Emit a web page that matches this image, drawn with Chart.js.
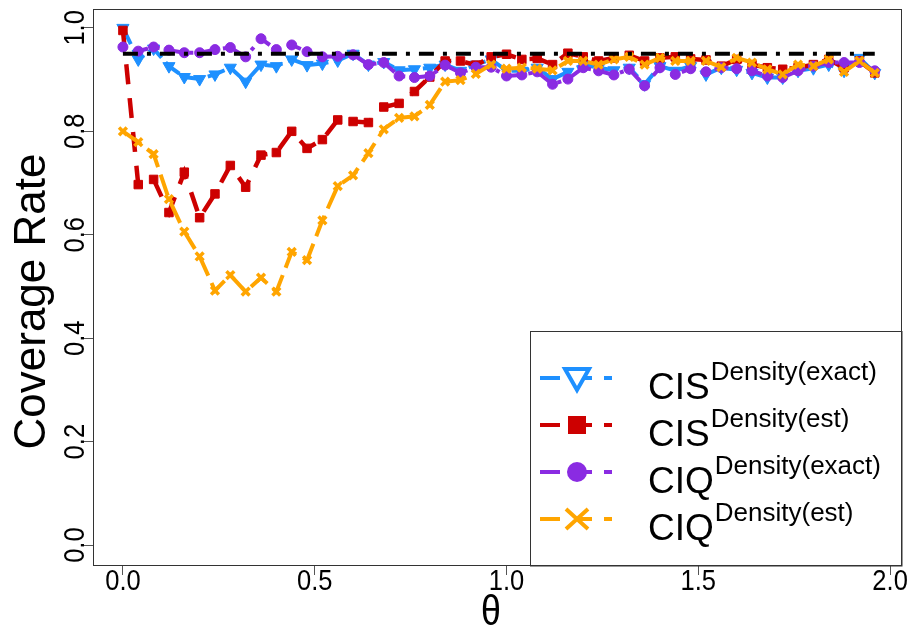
<!DOCTYPE html>
<html>
<head>
<meta charset="utf-8">
<script src="https://cdn.jsdelivr.net/npm/chart.js@4/dist/chart.umd.min.js"></script>
<style>
  html, body { margin: 0; padding: 0; background: #ffffff; }
  #wrap { width: 911px; height: 632px; }
</style>
</head>
<body>
<div id="wrap"><canvas id="cv" width="911" height="632"></canvas></div>
<script>
// theta grid
const theta = [0.00, 0.04, 0.08, 0.12, 0.16, 0.20, 0.24, 0.28, 0.32, 0.36,
               0.40, 0.44, 0.48, 0.52, 0.56, 0.60, 0.64, 0.68, 0.72, 0.76,
               0.80, 0.84, 0.88, 0.92, 0.96, 1.00, 1.04, 1.08, 1.12, 1.16,
               1.20, 1.24, 1.28, 1.32, 1.36, 1.40, 1.44, 1.48, 1.52, 1.56,
               1.60, 1.64, 1.68, 1.72, 1.76, 1.80, 1.84, 1.88, 1.92, 1.96];

// coverage rates
const cisExact = [1.000, 0.939, 0.960, 0.926, 0.905, 0.901, 0.910, 0.923, 0.896, 0.929,
                  0.926, 0.939, 0.928, 0.931, 0.937, 0.950, 0.929, 0.934, 0.918, 0.920,
                  0.923, 0.929, 0.917, 0.929, 0.939, 0.917, 0.917, 0.923, 0.901, 0.915,
                  0.929, 0.923, 0.918, 0.923, 0.891, 0.926, 0.917, 0.926, 0.910, 0.923,
                  0.919, 0.913, 0.904, 0.904, 0.917, 0.922, 0.929, 0.917, 0.942, 0.913];
const cisEst   = [0.995, 0.697, 0.707, 0.643, 0.721, 0.633, 0.679, 0.734, 0.692, 0.754,
                  0.759, 0.800, 0.767, 0.784, 0.822, 0.819, 0.817, 0.847, 0.854, 0.877,
                  0.905, 0.936, 0.936, 0.928, 0.944, 0.949, 0.939, 0.941, 0.929, 0.951,
                  0.944, 0.936, 0.942, 0.947, 0.936, 0.942, 0.944, 0.940, 0.938, 0.926,
                  0.939, 0.929, 0.923, 0.920, 0.923, 0.929, 0.939, 0.923, 0.936, 0.913];
const ciqExact = [0.963, 0.955, 0.963, 0.957, 0.952, 0.952, 0.958, 0.962, 0.944, 0.979,
                  0.958, 0.967, 0.954, 0.944, 0.945, 0.948, 0.929, 0.933, 0.907, 0.904,
                  0.907, 0.928, 0.913, 0.924, 0.924, 0.907, 0.909, 0.915, 0.891, 0.901,
                  0.923, 0.917, 0.909, 0.920, 0.888, 0.923, 0.910, 0.921, 0.915, 0.923,
                  0.921, 0.917, 0.907, 0.904, 0.917, 0.926, 0.933, 0.933, 0.933, 0.917];
const ciqEst   = [0.800, 0.779, 0.756, 0.669, 0.606, 0.558, 0.492, 0.522, 0.490, 0.517,
                  0.490, 0.567, 0.551, 0.628, 0.694, 0.715, 0.758, 0.804, 0.826, 0.829,
                  0.851, 0.896, 0.899, 0.911, 0.929, 0.921, 0.923, 0.921, 0.918, 0.936,
                  0.936, 0.929, 0.939, 0.944, 0.929, 0.942, 0.936, 0.936, 0.936, 0.924,
                  0.942, 0.933, 0.920, 0.910, 0.929, 0.926, 0.939, 0.915, 0.936, 0.913];

// nominal level
const nominal = 0.95;
const nominalSpan = [0.00, 1.96];

// axis ticks
const xTicks = [0, 0.5, 1, 1.5, 2];
const yTicks = [0, 0.2, 0.4, 0.6, 0.8, 1.0];

// legend entries
const legendMain = ['CIS', 'CIS', 'CIQ', 'CIQ'];
const legendSup  = ['Density(exact)', 'Density(est)', 'Density(exact)', 'Density(est)'];

const FONT = '"Liberation Sans", Arial, sans-serif';
const C_BLUE = '#1E90FF', C_RED = '#CD0000', C_PURPLE = '#8A2BE2', C_ORANGE = '#FFA500';

const pts = (ys) => theta.map((t, i) => ({ x: t, y: ys[i] }));

const datasets = [
  {
    label: 'nominal',
    data: nominalSpan.map(t => ({ x: t, y: nominal })),
    borderColor: '#000000', borderWidth: 4, borderDash: [15, 9, 4, 9],
    pointRadius: 0, order: -1
  },
  {
    label: 'CIS exact', data: pts(cisExact),
    borderColor: C_BLUE, backgroundColor: C_BLUE, borderWidth: 4, borderDash: [18, 6],
    pointStyle: 'triangle', rotation: 180, pointRadius: 7, pointBorderWidth: 1,
    pointBackgroundColor: C_BLUE, pointBorderColor: C_BLUE, order: 3
  },
  {
    label: 'CIS est', data: pts(cisEst),
    borderColor: C_RED, backgroundColor: C_RED, borderWidth: 4.5, borderDash: [20, 14],
    pointStyle: 'rect', pointRadius: 6, pointBorderWidth: 1,
    pointBackgroundColor: C_RED, pointBorderColor: C_RED, order: 2
  },
  {
    label: 'CIQ exact', data: pts(ciqExact),
    borderColor: C_PURPLE, backgroundColor: C_PURPLE, borderWidth: 4, borderDash: [4, 8, 14, 8],
    pointStyle: 'circle', pointRadius: 5, pointBorderWidth: 1,
    pointBackgroundColor: C_PURPLE, pointBorderColor: C_PURPLE, order: 1
  },
  {
    label: 'CIQ est', data: pts(ciqEst),
    borderColor: C_ORANGE, backgroundColor: C_ORANGE, borderWidth: 4, borderDash: [22, 8],
    pointStyle: 'crossRot', pointRadius: 5.5, pointBorderWidth: 3.5,
    pointBackgroundColor: C_ORANGE, pointBorderColor: C_ORANGE, order: 0
  }
];

function drawLegendGlyph(ctx, kind, cx, cy, color) {
  ctx.save();
  ctx.strokeStyle = color; ctx.fillStyle = color; ctx.lineWidth = 4; ctx.lineCap = 'butt';
  // line sample pieces
  ctx.beginPath();
  ctx.moveTo(540, cy); ctx.lineTo(560, cy);
  ctx.moveTo(cx, cy); ctx.lineTo(592, cy);
  ctx.moveTo(604, cy); ctx.lineTo(612, cy);
  ctx.stroke();
  if (kind === 'tri') {
    ctx.fillStyle = '#ffffff';
    ctx.beginPath();
    ctx.moveTo(cx - 12, cy - 9); ctx.lineTo(cx + 12, cy - 9); ctx.lineTo(cx, cy + 12); ctx.closePath();
    ctx.fill();
    ctx.lineWidth = 4; ctx.lineJoin = 'miter';
    ctx.stroke();
  } else if (kind === 'sq') {
    ctx.fillRect(cx - 9, cy - 9, 18, 18);
  } else if (kind === 'dot') {
    ctx.beginPath(); ctx.arc(cx, cy, 10, 0, Math.PI * 2); ctx.fill();
  } else if (kind === 'x') {
    ctx.beginPath();
    ctx.moveTo(cx - 11, cy - 10); ctx.lineTo(cx + 11, cy + 10);
    ctx.moveTo(cx + 11, cy - 10); ctx.lineTo(cx - 11, cy + 10);
    ctx.stroke();
  }
  ctx.restore();
}

// tick labels use a slightly narrowed face
function tallText(ctx, text, x, y, size, squeeze) {
  ctx.save();
  ctx.translate(x, y);
  ctx.scale(squeeze, 1);
  ctx.font = size + 'px ' + FONT;
  ctx.fillText(text, 0, 0);
  ctx.restore();
}

const decorations = {
  id: 'decorations',
  beforeDraw(chart) {
    const ctx = chart.ctx;
    ctx.save();
    ctx.fillStyle = '#ffffff';
    ctx.fillRect(0, 0, chart.width, chart.height);
    ctx.restore();
  },
  afterDraw(chart) {
    const ctx = chart.ctx;
    const a = chart.chartArea;
    const xs = chart.scales.x;
    const ys = chart.scales.y;

    // legend panel
    const lx = 530.5, ly = 331.5;
    ctx.save();
    ctx.fillStyle = '#ffffff';
    ctx.fillRect(lx, ly, a.right - lx, a.bottom - ly);
    ctx.strokeStyle = '#333333'; ctx.lineWidth = 1;
    ctx.strokeRect(lx, ly, a.right - lx, a.bottom - ly);
    const rowsY = [378, 425, 472, 519];
    const kinds = ['tri', 'sq', 'dot', 'x'];
    const cols = [C_BLUE, C_RED, C_PURPLE, C_ORANGE];
    rowsY.forEach((y, i) => {
      drawLegendGlyph(ctx, kinds[i], 577, y, cols[i]);
      ctx.fillStyle = '#000000';
      ctx.textBaseline = 'alphabetic'; ctx.textAlign = 'left';
      ctx.font = '37px ' + FONT;
      ctx.fillText(legendMain[i], 648, y + 21);
      const w = ctx.measureText(legendMain[i]).width;
      ctx.font = '26px ' + FONT;
      ctx.fillText(legendSup[i], 648 + w + 1, y + 2);
    });
    ctx.restore();

    // plot frame
    ctx.save();
    ctx.strokeStyle = '#333333'; ctx.lineWidth = 1;
    ctx.strokeRect(a.left + 0.5, a.top + 0.5, a.right - a.left - 1, a.bottom - a.top - 1);
    ctx.restore();

    // x tick labels
    ctx.save();
    ctx.fillStyle = '#000000';
    ctx.textAlign = 'center'; ctx.textBaseline = 'alphabetic';
    xs.ticks.forEach(t => {
      tallText(ctx, t.value.toFixed(1), xs.getPixelForValue(t.value), 590, 29, 0.88);
    });
    ctx.restore();

    // y tick labels, rotated
    ctx.save();
    ctx.fillStyle = '#000000';
    ctx.textAlign = 'center'; ctx.textBaseline = 'alphabetic';
    ys.ticks.forEach(t => {
      const py = ys.getPixelForValue(t.value);
      ctx.save();
      ctx.translate(84, py);
      ctx.rotate(-Math.PI / 2);
      tallText(ctx, t.value.toFixed(1), 0, 0, 29, 0.88);
      ctx.restore();
    });
    ctx.restore();

    // axis titles
    ctx.save();
    ctx.fillStyle = '#000000';
    ctx.font = '44px ' + FONT;
    ctx.textAlign = 'center'; ctx.textBaseline = 'alphabetic';
    ctx.translate(45, (a.top + a.bottom) / 2 + 14);
    ctx.rotate(-Math.PI / 2);
    ctx.fillText('Coverage Rate', 0, 0);
    ctx.restore();
    ctx.save();
    ctx.fillStyle = '#000000';
    ctx.textAlign = 'center'; ctx.textBaseline = 'alphabetic';
    tallText(ctx, '\u03B8', 491, 625, 42, 0.85);
    ctx.restore();
  }
};

new Chart(document.getElementById('cv'), {
  type: 'line',
  data: { datasets },
  options: {
    responsive: false,
    animation: false,
    devicePixelRatio: 1,
    layout: { padding: { top: 6, right: 6, left: 0, bottom: 0 } },
    plugins: { legend: { display: false }, tooltip: { enabled: false } },
    elements: { line: { tension: 0, fill: false } },
    scales: {
      x: {
        type: 'linear', min: -0.078, max: 2.031,
        afterBuildTicks: s => { s.ticks = xTicks.map(v => ({ value: v })); },
        afterFit: s => { s.height = 66; },
        ticks: { display: false },
        grid: { display: true, drawOnChartArea: false, drawTicks: true, tickLength: 9, color: '#555555', lineWidth: 1 },
        border: { display: false }
      },
      y: {
        type: 'linear', min: -0.0404, max: 1.0365,
        afterBuildTicks: s => { s.ticks = yTicks.map(v => ({ value: v })); },
        afterFit: s => { s.width = 93; },
        ticks: { display: false },
        grid: { display: true, drawOnChartArea: false, drawTicks: true, tickLength: 9, color: '#555555', lineWidth: 1 },
        border: { display: false }
      }
    }
  },
  plugins: [decorations]
});
</script>
</body>
</html>
